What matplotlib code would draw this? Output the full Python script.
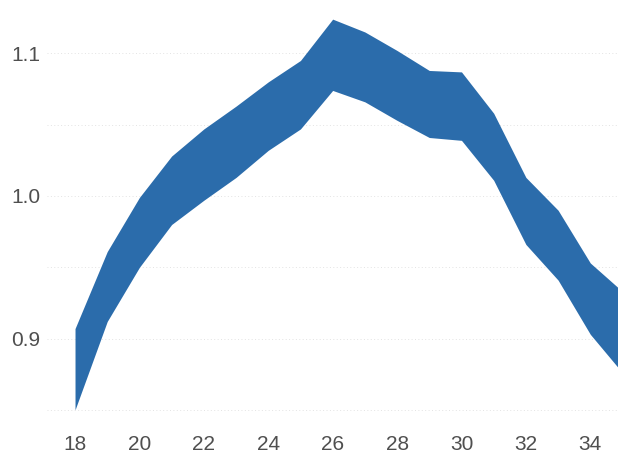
import matplotlib
matplotlib.use("Agg")
import matplotlib.pyplot as plt
from matplotlib.ticker import MultipleLocator

# band values
ages = [18, 19, 20, 21, 22, 23, 24, 25, 26, 27, 28, 29, 30, 31, 32, 33, 34, 35]
upper = [0.907, 0.961, 0.999, 1.028, 1.047, 1.063, 1.080, 1.095, 1.124, 1.115,
         1.102, 1.088, 1.087, 1.058, 1.013, 0.990, 0.953, 0.933]
lower = [0.850, 0.912, 0.950, 0.980, 0.997, 1.013, 1.032, 1.047, 1.074, 1.066,
         1.053, 1.041, 1.039, 1.011, 0.966, 0.941, 0.903, 0.876]

plt.rcParams['font.family'] = ['Liberation Sans', 'DejaVu Sans']

fig = plt.figure(figsize=(6.18, 4.58), dpi=100)
ax = fig.add_axes([47 / 618, 33 / 458, 571 / 618, 415 / 458])

ax.fill_between(ages, lower, upper, color='#2b6cab', linewidth=0, zorder=2)

ax.set_xlim(17.13, 34.86)
ax.set_ylim(0.8394, 1.1304)
ax.set_xticks(range(18, 35, 2))
ax.yaxis.set_major_locator(MultipleLocator(0.1))
ax.yaxis.set_minor_locator(MultipleLocator(0.05))
ax.yaxis.set_major_formatter(lambda v, p: f"{v:.1f}")

ax.grid(axis='y', which='both', linestyle=(0, (1, 2.5)), color='#e3e3e3', linewidth=0.7, zorder=0)
for s in ax.spines.values():
    s.set_visible(False)
ax.tick_params(which='both', length=0, labelsize=15, colors='#4f4f4f')
ax.tick_params(axis='x', pad=7)
ax.tick_params(axis='y', pad=5)

fig.savefig("out.png", dpi=100)
